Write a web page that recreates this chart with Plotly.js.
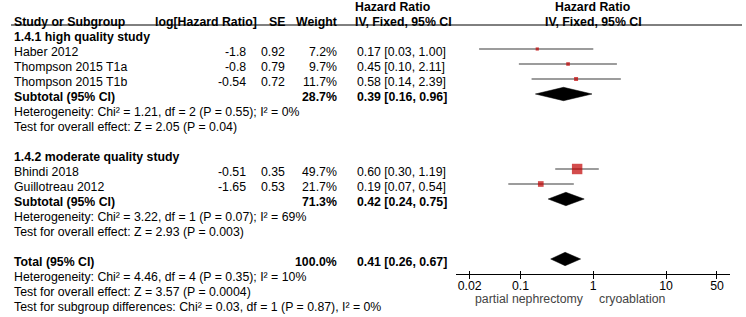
<!DOCTYPE html>
<html><head><meta charset="utf-8">
<script src="https://cdn.plot.ly/plotly-3.0.1.min.js"></script>
<style>html,body{margin:0;padding:0;background:#fff;}#chart{width:746px;height:317px;}</style>
</head><body><div id="chart"></div>
<script>
// ---------- data ----------
const groupNames = ['1.4.1 high quality study', '1.4.2 moderate quality study'];
const studies = ['Haber 2012', 'Thompson 2015 T1a', 'Thompson 2015 T1b', 'Bhindi 2018', 'Guillotreau 2012'];
const studyGroup = [0, 0, 0, 1, 1];
const logHR = [-1.8, -0.8, -0.54, -0.51, -1.65];
const se = [0.92, 0.79, 0.72, 0.35, 0.53];
const weight = [7.2, 9.7, 11.7, 49.7, 21.7];
const hr = [0.17, 0.45, 0.58, 0.60, 0.19];
const ciLow = [0.03, 0.10, 0.14, 0.30, 0.07];      // printed
const ciHigh = [1.00, 2.11, 2.39, 1.19, 0.54];     // printed
const lineLow = [0.027, 0.095, 0.142, 0.30, 0.068]; // CI whisker ends as drawn
const lineHigh = [1.00, 2.11, 2.39, 1.19, 0.54];

const subWeight = [28.7, 71.3];
const subHR = [0.39, 0.42];
const subLow = [0.16, 0.24];
const subHigh = [0.96, 0.75];
const subHet = ['Heterogeneity: Chi² = 1.21, df = 2 (P = 0.55); I² = 0%',
                'Heterogeneity: Chi² = 3.22, df = 1 (P = 0.07); I² = 69%'];
const subTest = ['Test for overall effect: Z = 2.05 (P = 0.04)',
                 'Test for overall effect: Z = 2.93 (P = 0.003)'];

const totalWeight = 100.0;
const totalHR = 0.41, totalLow = 0.26, totalHigh = 0.67;
const totalHet = 'Heterogeneity: Chi² = 4.46, df = 4 (P = 0.35); I² = 10%';
const totalTest = 'Test for overall effect: Z = 3.57 (P = 0.0004)';
const subgroupTest = 'Test for subgroup differences: Chi² = 0.03, df = 1 (P = 0.87), I² = 0%';

const tickVals = [0.02, 0.1, 1, 10, 50];
const tickText = ['0.02', '0.1', '1', '10', '50'];
const favoursLeft = 'partial nephrectomy';
const favoursRight = 'cryoablation';
const nullValue = 1;

// ---------- layout helpers ----------
const W = 746, H = 317;
const ROW0 = 49, ROWH = 15;             // pixel of first study row, row height
const rowTop = -ROW0 / ROWH, rowBottom = (H - ROW0) / ROWH;
const TEXT_DY = 0.17;
const FS = 12.3;
const FONT = 'Liberation Sans, Arial, Helvetica, sans-serif';
const COL = {study: 14, logR: 246, logHeadR: 257, seR: 285, wR: 337, hrL: 357};
const AX_PX = 274;                       // axis line pixel
const axisPos = 1 - AX_PX / H;
const HEAD_LINE_PX = 25;

const ann = [];
function txt(text, xpx, row, anchor, bold, extra) {
  ann.push(Object.assign({
    text: bold ? '<b>' + text + '</b>' : text,
    xref: 'paper', yref: 'y', x: xpx / W, y: row + TEXT_DY,
    xanchor: anchor, yanchor: 'middle', showarrow: false,
    borderpad: 0, borderwidth: 0,
    font: {family: FONT, size: FS, color: '#000'}
  }, extra || {}));
}
const f2 = v => v.toFixed(2);
const ciStr = (e, l, h) => f2(e) + ' [' + f2(l) + ', ' + f2(h) + ']';

// headers
txt('Hazard Ratio', COL.hrL - 2, -3, 'left', true);
txt('Study or Subgroup', COL.study, -2, 'left', true);
txt('log[Hazard Ratio]', COL.logHeadR, -2, 'right', true);
txt('SE', COL.seR, -2, 'right', true);
txt('Weight', COL.wR, -2, 'right', true);
txt('IV, Fixed, 95% CI', COL.hrL - 2, -2, 'left', true);
ann.push({text: '<b>Hazard Ratio</b>', xref: 'x', yref: 'y', x: Math.log10(nullValue), y: -3 + TEXT_DY,
  xanchor: 'center', yanchor: 'middle', showarrow: false, borderpad: 0, borderwidth: 0,
  font: {family: FONT, size: FS, color: '#000'}});
ann.push({text: '<b>IV, Fixed, 95% CI</b>', xref: 'x', yref: 'y', x: Math.log10(nullValue), y: -2 + TEXT_DY,
  xanchor: 'center', yanchor: 'middle', showarrow: false, borderpad: 0, borderwidth: 0,
  font: {family: FONT, size: FS, color: '#000'}});

// body
const ciX = [], ciY = [], sqX = [], sqY = [], sqS = [];
const diamonds = [];
let row = -1;
groupNames.forEach((g, gi) => {
  txt(g, COL.study, row, 'left', true);
  row++;
  studies.forEach((s, i) => {
    if (studyGroup[i] !== gi) return;
    txt(s, COL.study, row, 'left');
    txt(String(logHR[i]), COL.logR, row, 'right');
    txt(String(se[i]), COL.seR, row, 'right');
    txt(weight[i].toFixed(1) + '%', COL.wR, row, 'right');
    txt(ciStr(hr[i], ciLow[i], ciHigh[i]), COL.hrL, row, 'left');
    ciX.push(lineLow[i], lineHigh[i], null); ciY.push(row, row, null);
    sqX.push(hr[i]); sqY.push(row); sqS.push(2 + 0.17 * weight[i]);
    row++;
  });
  txt('Subtotal (95% CI)', COL.study, row, 'left', true);
  txt(subWeight[gi].toFixed(1) + '%', COL.wR, row, 'right', true);
  txt(ciStr(subHR[gi], subLow[gi], subHigh[gi]), COL.hrL, row, 'left', true);
  diamonds.push([subLow[gi], subHR[gi], subHigh[gi], row]);
  txt(subHet[gi], COL.study, row + 1, 'left');
  txt(subTest[gi], COL.study, row + 2, 'left');
  row += 4;
});
txt('Total (95% CI)', COL.study, row, 'left', true);
txt(totalWeight.toFixed(1) + '%', COL.wR, row, 'right', true);
txt(ciStr(totalHR, totalLow, totalHigh), COL.hrL, row, 'left', true);
diamonds.push([totalLow, totalHR, totalHigh, row]);
txt(totalHet, COL.study, row + 1, 'left');
txt(totalTest, COL.study, row + 2, 'left');
txt(subgroupTest, COL.study, row + 3, 'left');

// favours labels
const favY = rowTop + (299) / ROWH;
ann.push({text: favoursLeft, xref: 'x', yref: 'y', x: Math.log10(nullValue), y: favY, xshift: -9,
  xanchor: 'right', yanchor: 'middle', showarrow: false, borderpad: 0, borderwidth: 0,
  font: {family: FONT, size: FS, color: '#444'}});
ann.push({text: favoursRight, xref: 'x', yref: 'y', x: Math.log10(nullValue), y: favY, xshift: 6,
  xanchor: 'left', yanchor: 'middle', showarrow: false, borderpad: 0, borderwidth: 0,
  font: {family: FONT, size: FS, color: '#444'}});

// ---------- traces ----------
const DH = 6.7 / ROWH;
const traces = [
  {type: 'scatter', mode: 'lines', x: ciX, y: ciY, xaxis: 'x', yaxis: 'y',
   line: {color: '#3a3a3a', width: 1.2}, hoverinfo: 'skip', connectgaps: false},
  {type: 'scatter', mode: 'markers', x: sqX, y: sqY, xaxis: 'x', yaxis: 'y',
   marker: {symbol: 'square', size: sqS, color: '#c00000', line: {width: 0}}, hoverinfo: 'skip'}
];
diamonds.forEach(d => {
  traces.push({type: 'scatter', mode: 'lines', fill: 'toself', fillcolor: '#000',
    x: [d[0], d[1], d[2], d[1], d[0]], y: [d[3], d[3] - DH, d[3], d[3] + DH, d[3]],
    xaxis: 'x', yaxis: 'y', line: {color: '#000', width: 0.5}, hoverinfo: 'skip'});
});
traces.push({type: 'scatter', mode: 'markers', x: [nullValue], y: [0], xaxis: 'x2', yaxis: 'y',
  marker: {opacity: 0}, hoverinfo: 'skip'});

const xDomain = [456 / W, 730 / W];
const xRange = [-1.886, 1.878];
const layout = {
  width: W, height: H, margin: {l: 0, r: 0, t: 0, b: 0, pad: 0},
  paper_bgcolor: '#fff', plot_bgcolor: 'rgba(0,0,0,0)', showlegend: false,
  font: {family: FONT, size: FS, color: '#000'},
  xaxis: {type: 'log', domain: xDomain, range: xRange, anchor: 'free', position: axisPos,
    showline: true, linecolor: '#000', linewidth: 1, ticks: 'outside', ticklen: 4,
    tickwidth: 1, tickcolor: '#000', tickvals: tickVals, ticktext: tickText,
    ticklabelstandoff: -4,
    tickfont: {family: FONT, size: FS, color: '#000'}, showgrid: false, zeroline: false, fixedrange: true},
  xaxis2: {type: 'log', domain: xDomain, range: xRange, anchor: 'free', position: axisPos,
    overlaying: 'x', showline: false, ticks: 'inside', ticklen: 3, tickwidth: 1, tickcolor: '#000',
    tickvals: tickVals, showticklabels: false, showgrid: false, zeroline: false, fixedrange: true},
  yaxis: {range: [rowBottom, rowTop], domain: [0, 1], visible: false, showgrid: false,
    zeroline: false, fixedrange: true},
  annotations: ann,
  shapes: [
    {type: 'line', xref: 'paper', yref: 'paper', x0: 11 / W, x1: 742 / W,
     y0: 1 - HEAD_LINE_PX / H, y1: 1 - HEAD_LINE_PX / H, line: {color: '#000', width: 1}},
    {type: 'line', xref: 'x', yref: 'paper', x0: Math.log10(nullValue), x1: Math.log10(nullValue),
     y0: axisPos, y1: 1 - HEAD_LINE_PX / H, line: {color: '#444', width: 1.2}}
  ]
};
Plotly.newPlot('chart', traces, layout, {displayModeBar: false, staticPlot: true});
</script>
</body></html>
